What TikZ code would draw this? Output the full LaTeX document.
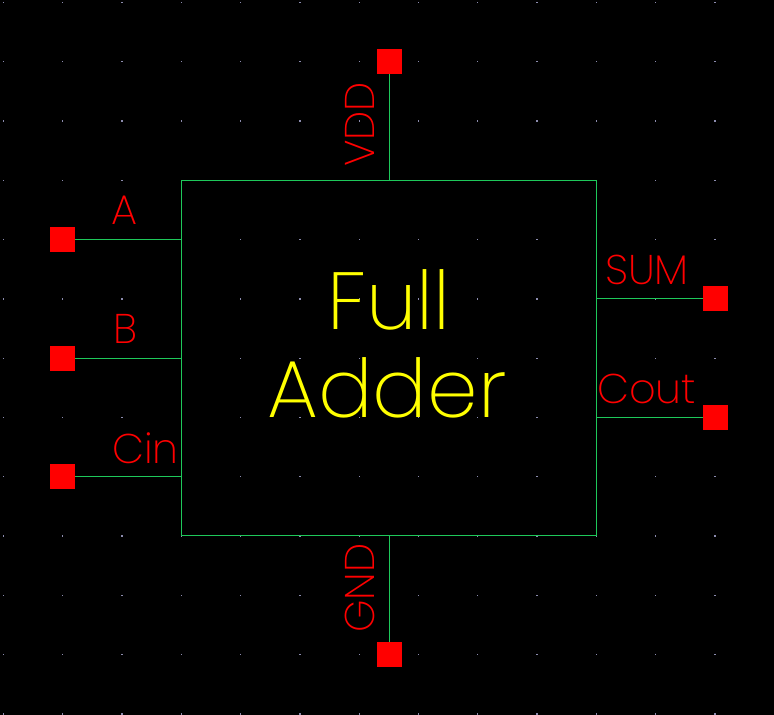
\documentclass[tikz,border=0pt]{standalone}
\usepackage{fontspec}
\newfontfamily\strokefont{Poppins ExtraLight}
\definecolor{wire}{RGB}{30,200,90}
\definecolor{pinred}{RGB}{255,0,0}
\definecolor{gridc}{RGB}{140,140,175}
\definecolor{labyel}{RGB}{255,255,0}
\begin{document}
\begin{tikzpicture}[x=1pt,y=-1pt,
  pinsq/.style={draw=none,fill=pinred,minimum size=25pt,inner sep=0pt,outer sep=0pt},
  wireline/.style={draw=wire,line width=1pt},
  pinlab/.style={text=pinred,font=\strokefont\fontsize{41.5}{41.5}\selectfont,inner sep=0pt,anchor=base west},
  biglab/.style={text=labyel,font=\strokefont\fontsize{81}{81}\selectfont,inner sep=0pt,anchor=base}]
\fill[black] (0,0) rectangle (774,715);
\useasboundingbox (0,0) rectangle (774,715);
% grid
\foreach \i in {0,...,13}{
  \foreach \j in {0,...,12}{
    \fill[gridc] ({3.3+59.3*\i-0.6},{2.3+59.3*\j-0.6}) rectangle ++(1.3,1.3);
  }
}
% box
\node[draw=wire,line width=1pt,minimum width=415pt,minimum height=354.7pt,inner sep=0pt,outer sep=0pt] (box) at (388.8,357.65) {};
% pins
\node[pinsq] (pA) at (62.5,239.5) {};
\node[pinsq] (pB) at (62.5,358) {};
\node[pinsq] (pC) at (62.5,476.5) {};
\node[pinsq] (pS) at (715.5,298.8) {};
\node[pinsq] (pO) at (715.5,417.3) {};
\node[pinsq] (pV) at (389.3,61.3) {};
\node[pinsq] (pG) at (389.3,654.8) {};
% wires
\draw[wireline] (pA.east) -- (pA -| box.west);
\draw[wireline] (pB.east) -- (pB -| box.west);
\draw[wireline] (pC.east) -- (pC -| box.west);
\draw[wireline] (pS.west) -- (pS -| box.east);
\draw[wireline] (pO.west) -- (pO -| box.east);
\draw[wireline] (pV.south) -- (pV |- box.north);
\draw[wireline] (pG.north) -- (pG |- box.south);
% labels
\node[pinlab] (lA) at (111,224.5) {A};
\node[pinlab] (lB) at (113,343.5) {B};
\node[pinlab] (lC) at (112,463) {Cin};
\node[pinlab] (lS) at (605,284) {SUM};
\node[pinlab] (lO) at (597,403) {Cout};
\node[pinlab,rotate=90] (lV) at (374.5,167) {VDD};
\node[pinlab,rotate=90] (lG) at (374.5,633) {GND};
\node[biglab] (t1) at (389,329) {Full};
\node[biglab] (t2) at (387,417) {Adder};
\end{tikzpicture}
\end{document}
